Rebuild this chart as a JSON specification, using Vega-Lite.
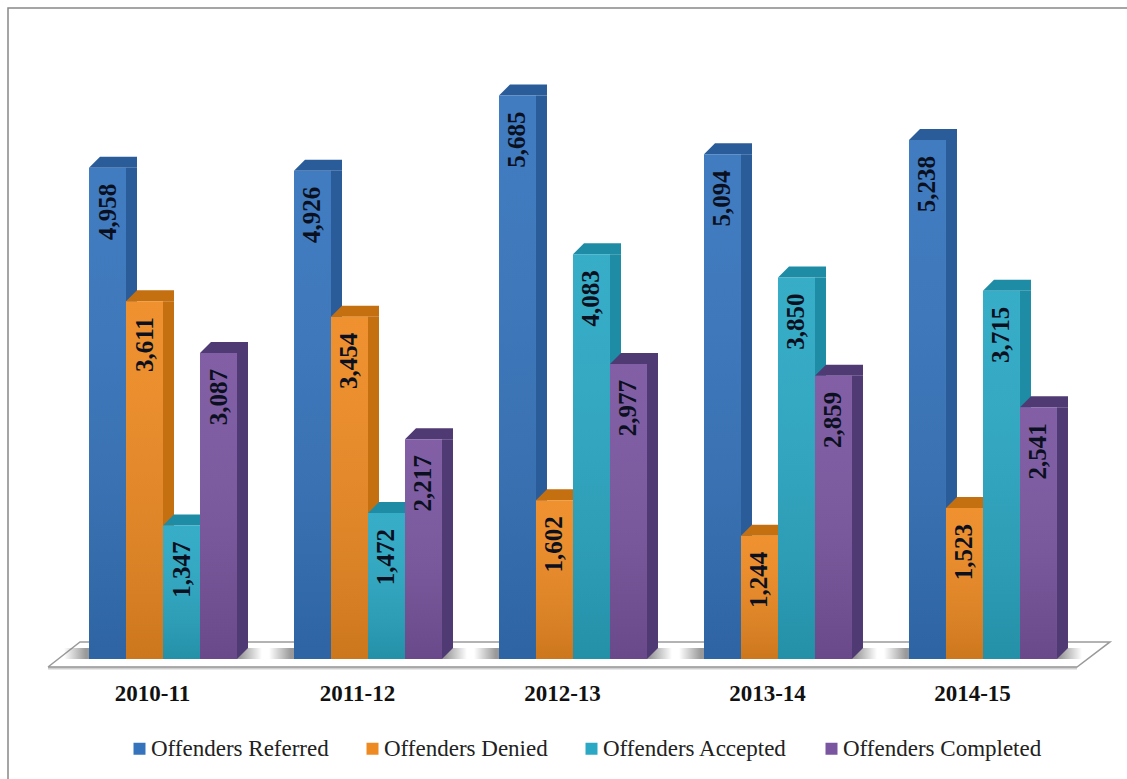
{"$schema":"https://vega.github.io/schema/vega-lite/v6.json","width":1125,"height":777,"autosize":{"type":"none"},"padding":{"left":8,"top":8,"right":0,"bottom":0},"background":"white","view":{"stroke":"#888888","strokeWidth":1.5,"fill":"white"},"datasets":{"offenders":[{"year":"2010-11","series":"Offenders Referred","value":4958},{"year":"2010-11","series":"Offenders Denied","value":3611},{"year":"2010-11","series":"Offenders Accepted","value":1347},{"year":"2010-11","series":"Offenders Completed","value":3087},{"year":"2011-12","series":"Offenders Referred","value":4926},{"year":"2011-12","series":"Offenders Denied","value":3454},{"year":"2011-12","series":"Offenders Accepted","value":1472},{"year":"2011-12","series":"Offenders Completed","value":2217},{"year":"2012-13","series":"Offenders Referred","value":5685},{"year":"2012-13","series":"Offenders Denied","value":1602},{"year":"2012-13","series":"Offenders Accepted","value":4083},{"year":"2012-13","series":"Offenders Completed","value":2977},{"year":"2013-14","series":"Offenders Referred","value":5094},{"year":"2013-14","series":"Offenders Denied","value":1244},{"year":"2013-14","series":"Offenders Accepted","value":3850},{"year":"2013-14","series":"Offenders Completed","value":2859},{"year":"2014-15","series":"Offenders Referred","value":5238},{"year":"2014-15","series":"Offenders Denied","value":1523},{"year":"2014-15","series":"Offenders Accepted","value":3715},{"year":"2014-15","series":"Offenders Completed","value":2541}],"floor":[{"seq":1,"fx":40,"fy":-81},{"seq":2,"fx":72,"fy":172},{"seq":3,"fx":1102,"fy":172},{"seq":4,"fx":1069,"fy":-81},{"seq":5,"fx":40,"fy":-81}],"floorEdge":[{"seq":1,"fx":40,"fy":-92},{"seq":2,"fx":1069,"fy":-92}],"years":[{"year":"2010-11"},{"year":"2011-12"},{"year":"2012-13"},{"year":"2013-14"},{"year":"2014-15"}]},"resolve":{"scale":{"x":"independent"}},"layer":[{"data":{"name":"floorEdge"},"mark":{"type":"line","stroke":"#cfcfcf","strokeWidth":3},"encoding":{"x":{"field":"fx","type":"quantitative","axis":null,"scale":{"domain":[0,1119],"range":[0,1119],"nice":false}},"y":{"field":"fy","type":"quantitative","axis":null,"scale":{"domain":[0,6000],"range":[651,56.4],"nice":false,"zero":false}},"order":{"field":"seq"}}},{"data":{"name":"floor"},"mark":{"type":"line","stroke":"#9a9a9a","strokeWidth":1.5},"encoding":{"x":{"field":"fx","type":"quantitative","axis":null,"scale":{"domain":[0,1119],"range":[0,1119],"nice":false}},"y":{"field":"fy","type":"quantitative","axis":null},"order":{"field":"seq"}}},{"layer":[{"data":{"name":"years"},"mark":{"type":"bar","width":198,"color":{"gradient":"linear","x1":0,"y1":0,"x2":1,"y2":0,"stops":[{"offset":0,"color":"rgba(110,110,110,0)"},{"offset":0.11,"color":"rgba(110,110,110,0.7)"},{"offset":0.89,"color":"rgba(110,110,110,0.7)"},{"offset":1,"color":"rgba(110,110,110,0)"}]}},"encoding":{"x":{"field":"year","type":"nominal","title":null,"scale":{"range":[81,1049],"paddingInner":0.278,"paddingOuter":0},"axis":{"orient":"bottom","offset":-103,"domain":false,"ticks":false,"labelAngle":0,"labelPadding":0,"labelOffset":-10.5,"labelFont":"Liberation Serif","labelFontWeight":"bold","labelFontSize":23,"labelColor":"#111111","grid":false}},"y":{"datum":110,"type":"quantitative","axis":null},"y2":{"datum":0}}},{"data":{"name":"offenders"},"resolve":{"scale":{"xOffset":"independent"}},"encoding":{"x":{"field":"year","type":"nominal"},"xOffset":{"field":"series","type":"nominal","sort":["Offenders Referred","Offenders Denied","Offenders Accepted","Offenders Completed"],"scale":{"range":[0,148]}}},"layer":[{"mark":{"type":"rule","strokeWidth":11,"y2Offset":-11},"encoding":{"xOffset":{"field":"series","type":"nominal","sort":["Offenders Referred","Offenders Denied","Offenders Accepted","Offenders Completed"],"scale":{"range":[24,172]}},"y":{"field":"value","type":"quantitative","axis":null},"y2":{"datum":0},"stroke":{"field":"series","type":"nominal","legend":null,"scale":{"domain":["Offenders Accepted","Offenders Denied","Offenders Referred","Offenders Completed"],"range":["#1f8ca5","#c46f10","#2b5c9a","#4f3a74"]}}}},{"mark":{"type":"point","filled":true,"opacity":1,"strokeWidth":0,"size":4,"shape":"M18.5 0 L29.5 -11 L18.5 -11 Z"},"encoding":{"y":{"datum":0,"type":"quantitative","axis":null},"fill":{"field":"series","type":"nominal","legend":null,"scale":{"domain":["Offenders Denied","Offenders Referred","Offenders Accepted","Offenders Completed"],"range":["#c46f10","#2b5c9a","#1f8ca5","#4f3a74"]}}}},{"mark":{"type":"point","filled":true,"opacity":1,"strokeWidth":0,"size":4,"shape":"M-18.5 0 L-7.5 -11 L29.5 -11 L29.5 0 L18.5 0 Z"},"encoding":{"y":{"field":"value","type":"quantitative","axis":null},"fill":{"field":"series","type":"nominal","legend":null}}},{"mark":{"type":"bar","width":37},"encoding":{"y":{"field":"value","type":"quantitative","axis":null},"y2":{"datum":0},"color":{"field":"series","type":"nominal","scale":{"domain":["Offenders Referred","Offenders Denied","Offenders Accepted","Offenders Completed"],"range":["#3574bd","#ee8a22","#2aa8c4","#7a55a0"]},"legend":{"title":null,"orient":"none","legendX":120,"legendY":729,"direction":"horizontal","columns":4,"symbolType":"square","symbolSize":144,"symbolStrokeWidth":0,"labelFont":"Liberation Serif","labelFontSize":23,"labelColor":"#222222","labelOffset":0,"columnPadding":32,"labelLimit":300}}}},{"mark":{"type":"bar","width":37,"color":{"gradient":"linear","x1":0,"y1":0,"x2":0,"y2":1,"stops":[{"offset":0,"color":"rgba(255,255,255,0.06)"},{"offset":1,"color":"rgba(0,0,0,0.14)"}]}},"encoding":{"y":{"field":"value","type":"quantitative","axis":null},"y2":{"datum":0}}},{"mark":{"type":"text","angle":270,"align":"right","baseline":"middle","yOffset":16,"font":"Liberation Serif","fontWeight":"bold","fontSize":25,"color":"#0b1020"},"encoding":{"y":{"field":"value","type":"quantitative","axis":null},"text":{"field":"value","type":"quantitative","format":","}}}]}]}]}
